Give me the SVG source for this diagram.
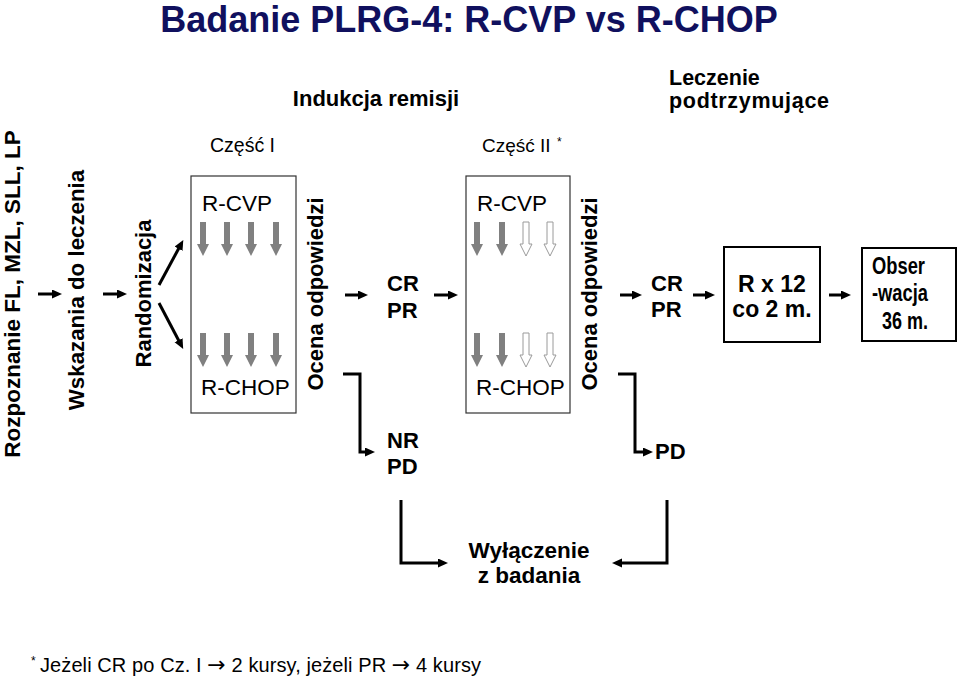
<svg xmlns="http://www.w3.org/2000/svg" width="960" height="679" viewBox="0 0 960 679">
<defs>
<style>
text{font-family:"Liberation Sans",Arial,sans-serif;fill:#000}
.b{font-weight:bold}
.t22{font-size:22.5px}
.box{fill:#fff;stroke:#333;stroke-width:1.2}
.bx{fill:#fff;stroke:#000;stroke-width:2}
.con{fill:none;stroke:#000;stroke-width:3}
.ga{fill:#808080}
.gh{fill:#fff;stroke:#9a9a9a;stroke-width:1}
.arr{font-family:"DejaVu Sans",sans-serif;font-size:22px}
</style>
<marker id="ah" markerUnits="userSpaceOnUse" markerWidth="11" markerHeight="10" refX="2" refY="4.5" orient="auto">
<path d="M0,0 L10,4.5 L0,9 Z" fill="#000"/>
</marker>
<path id="gar" d="M-3,0 H3 V22 H6 L0,34 L-6,22 H-3 Z"/>
</defs>
<rect width="960" height="679" fill="#fff"/>

<g id="title"><text x="469" y="32" class="b" font-size="36" text-anchor="middle" style="fill:#10105e">Badanie PLRG-4: R-CVP vs R-CHOP</text></g>
<g id="indukcja"><text x="376" y="106" class="b" font-size="22" text-anchor="middle">Indukcja remisji</text></g>
<g id="leczenie"><text x="669" y="85" class="b" font-size="21.5">Leczenie</text><text x="669" y="108" class="b" font-size="21.5" textLength="160" lengthAdjust="spacing">podtrzymujące</text></g>
<g id="czesc1"><text x="210" y="152" font-size="19.5">Część I</text></g>
<g id="czesc2"><text x="482" y="152" font-size="19">Część II</text><text x="557" y="146" font-size="12">*</text></g>

<g id="rozpoznanie"><text transform="translate(20,294) rotate(-90)" class="b" font-size="22.5" text-anchor="middle">Rozpoznanie FL, MZL, SLL, LP</text></g>
<g id="wskazania"><text transform="translate(84,290) rotate(-90)" class="b" font-size="22.3" text-anchor="middle">Wskazania do leczenia</text></g>
<g id="randomizacja"><text transform="translate(151,293.5) rotate(-90)" class="b" font-size="22" text-anchor="middle">Randomizacja</text></g>

<g id="partI">
<rect class="box" x="191" y="176" width="105" height="237"/>
<text x="202" y="211" class="t22">R-CVP</text>
<use href="#gar" class="ga" x="203" y="222"/><use href="#gar" class="ga" x="227" y="222"/><use href="#gar" class="ga" x="251" y="222"/><use href="#gar" class="ga" x="276" y="222"/>
<use href="#gar" class="ga" x="203" y="333"/><use href="#gar" class="ga" x="227" y="333"/><use href="#gar" class="ga" x="251" y="333"/><use href="#gar" class="ga" x="276" y="333"/>
<text x="201" y="395" class="t22">R-CHOP</text>
</g>
<g id="ocena1"><text transform="translate(323,294) rotate(-90)" class="b" font-size="22" text-anchor="middle">Ocena odpowiedzi</text></g>
<g id="crpr1"><text x="387" y="291" class="b" font-size="22">CR</text><text x="387" y="318" class="b" font-size="22">PR</text></g>
<g id="nrpd"><text x="387" y="448" class="b" font-size="22">NR</text><text x="387" y="474" class="b" font-size="22">PD</text></g>

<g id="partII">
<rect class="box" x="466" y="176" width="104" height="237"/>
<text x="477" y="211" class="t22">R-CVP</text>
<use href="#gar" class="ga" x="477" y="222"/><use href="#gar" class="ga" x="502" y="222"/><use href="#gar" class="gh" x="526" y="222"/><use href="#gar" class="gh" x="550" y="222"/>
<use href="#gar" class="ga" x="477" y="333"/><use href="#gar" class="ga" x="502" y="333"/><use href="#gar" class="gh" x="526" y="333"/><use href="#gar" class="gh" x="550" y="333"/>
<text x="476" y="395" class="t22">R-CHOP</text>
</g>
<g id="ocena2"><text transform="translate(597,294) rotate(-90)" class="b" font-size="22" text-anchor="middle">Ocena odpowiedzi</text></g>
<g id="crpr2"><text x="651" y="291" class="b" font-size="22">CR</text><text x="651" y="317" class="b" font-size="22">PR</text></g>
<g id="pd2"><text x="655" y="459" class="b" font-size="22">PD</text></g>

<g id="rx12">
<rect class="bx" x="724" y="247" width="96" height="95"/>
<text x="772" y="292" class="b" font-size="23" text-anchor="middle">R x 12</text>
<text x="772" y="317" class="b" font-size="23" text-anchor="middle">co 2 m.</text>
</g>
<g id="obserwacja">
<rect class="bx" x="862" y="248" width="94" height="93"/>
<text x="872" y="274" class="b" font-size="23" textLength="53" lengthAdjust="spacingAndGlyphs">Obser</text>
<text x="872" y="301" class="b" font-size="23" textLength="56" lengthAdjust="spacingAndGlyphs">-wacja</text>
<text x="882" y="329" class="b" font-size="23" textLength="46" lengthAdjust="spacingAndGlyphs">36 m.</text>
</g>

<g id="wylaczenie"><text x="529" y="558" class="b" font-size="22.5" text-anchor="middle">Wyłączenie</text><text x="529" y="583" class="b" font-size="22.5" text-anchor="middle">z badania</text></g>

<g id="footnote"><text x="31" y="665" font-size="12">*</text><text x="40" y="672" font-size="20" textLength="441" lengthAdjust="spacing">Jeżeli CR po Cz. I <tspan class="arr">→</tspan> 2 kursy, jeżeli PR <tspan class="arr">→</tspan> 4 kursy</text></g>

<g id="connectors">
<line class="con" x1="38" y1="294" x2="54" y2="294" marker-end="url(#ah)"/>
<line class="con" x1="103" y1="294" x2="119" y2="294" marker-end="url(#ah)"/>
<line class="con" x1="159" y1="285" x2="179.5" y2="247" marker-end="url(#ah)"/>
<line class="con" x1="159" y1="303" x2="179.5" y2="342" marker-end="url(#ah)"/>
<line class="con" x1="345" y1="295" x2="360" y2="295" marker-end="url(#ah)"/>
<line class="con" x1="434" y1="295" x2="450" y2="295" marker-end="url(#ah)"/>
<line class="con" x1="620" y1="295" x2="634" y2="295" marker-end="url(#ah)"/>
<line class="con" x1="693" y1="295" x2="707" y2="295" marker-end="url(#ah)"/>
<line class="con" x1="829" y1="295" x2="843" y2="295" marker-end="url(#ah)"/>
<polyline class="con" points="343,374 360,374 360,452 367,452" marker-end="url(#ah)"/>
<polyline class="con" points="618,374 635,374 635,452 645,452" marker-end="url(#ah)"/>
<polyline class="con" points="401,500 401,563 440,563" marker-end="url(#ah)"/>
<polyline class="con" points="667,500 667,563 620,563" marker-end="url(#ah)"/>
</g>
</svg>
